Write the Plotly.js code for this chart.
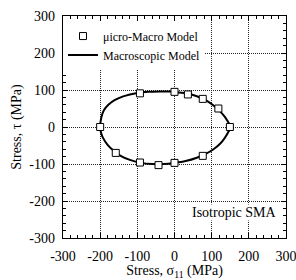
<!DOCTYPE html>
<html><head><meta charset="utf-8">
<script src="https://cdn.plot.ly/plotly-3.0.1.min.js"></script>
<style>html,body{margin:0;padding:0;background:#fff}</style>
</head><body><div id="chart" style="width:296px;height:280px"></div>
<script>
// Micro-Macro model points (sigma11, tau)
const microSigma = [-200, -158, -93, -43, 0, 76, 149, 118, 76, 36, 0, -93];
const microTau   = [0, -70, -96, -103, -97, -78, 0, 50, 76, 88, 95, 91];
// Macroscopic model curve
const macroSigma = [-200, -197, -190, -178, -160, -140, -120, -100, -70, -40, -10, 0, 30, 60, 85, 105, 122, 135, 144, 149, 150,
                    149, 144, 135, 122, 105, 85, 60, 30, 0, -30, -60, -90, -120, -145, -165, -180, -192, -198, -200];
const macroTau   = [0, 25, 45, 60, 73, 82, 88, 92, 95, 96, 96, 95, 91, 83, 72, 58, 43, 28, 14, 5, 0,
                    -5, -15, -30, -46, -60, -72, -83, -92, -97, -100, -100, -97, -89, -78, -63, -48, -30, -14, 0];
const tickVals = [-300, -200, -100, 0, 100, 200, 300];
const tickText = ['-300', '-200', '-100', '0', '100', '200', '300'];

const serif = '"Liberation Serif"';
// main axes: frame, grid, major + minor ticks
const axisMain = {
  range: [-300, 300], tickmode: 'linear', tick0: 0, dtick: 100,
  ticks: 'inside', ticklen: 5, tickcolor: '#000', showticklabels: false,
  showline: true, linecolor: '#000', linewidth: 1, mirror: 'allticks',
  showgrid: true, gridcolor: '#222', griddash: '1px,1px', gridwidth: 1, zeroline: false,
  minor: {dtick: 20, ticks: 'inside', ticklen: 3, tickcolor: '#000', showgrid: false},
  fixedrange: true
};
// overlay axes: tick labels (hyphen minus) only
const axisLabels = {
  range: [-300, 300], tickmode: 'array', tickvals: tickVals, ticktext: tickText,
  ticks: '', showline: false, showgrid: false, zeroline: false, ticklabeloverflow: 'allow',
  tickfont: {family: serif, size: 14, color: '#000'}, fixedrange: true
};
const macroTrace = {x: macroSigma, y: macroTau, mode: 'lines', name: 'Macroscopic Model', legendrank: 2,
   line: {color: '#000', width: 2, shape: 'spline', smoothing: 0.8}};
const microTrace = {x: microSigma, y: microTau, xaxis: 'x2', yaxis: 'y2', mode: 'markers', name: 'μicro-Macro Model', legendrank: 1,
   marker: {symbol: 'square', size: 7, color: '#fff', line: {color: '#000', width: 1}}, cliponaxis: false};
const data = [macroTrace, microTrace];
const layout = {
  width: 296, height: 280,
  margin: {l: 63, r: 10, t: 16, b: 42},
  paper_bgcolor: '#fff', plot_bgcolor: '#fff',
  font: {family: serif, color: '#000'},
  showlegend: true,
  legend: {x: 0.0, y: 0.975, xanchor: 'left', yanchor: 'top', bgcolor: 'rgba(255,255,255,1)',
           font: {family: serif, size: 12, color: '#000'}, traceorder: 'normal',
           itemwidth: 30, tracegroupgap: 0},
  xaxis: Object.assign({}, axisMain),
  yaxis: Object.assign({}, axisMain),
  xaxis2: Object.assign({}, axisLabels, {overlaying: 'x', anchor: 'y', side: 'bottom', ticklabelstandoff: 8,
    title: {text: 'Stress, σ<sub>11</sub> (MPa)', font: {family: serif, size: 14}, standoff: 2}}),
  yaxis2: Object.assign({}, axisLabels, {overlaying: 'y', anchor: 'x', side: 'left', ticklabelstandoff: 7,
    title: {text: 'Stress, τ (MPa)', font: {family: serif, size: 14}, standoff: 4}}),
  annotations: [{x: 0.965, y: 0.113, xref: 'paper', yref: 'paper', xanchor: 'right', yanchor: 'middle',
                 text: 'Isotropic SMA', showarrow: false, bgcolor: '#fff', borderpad: 0, font: {family: serif, size: 14, color: '#000'}}]
};
Plotly.newPlot('chart', data, layout, {staticPlot: true, displayModeBar: false});
</script></body></html>
